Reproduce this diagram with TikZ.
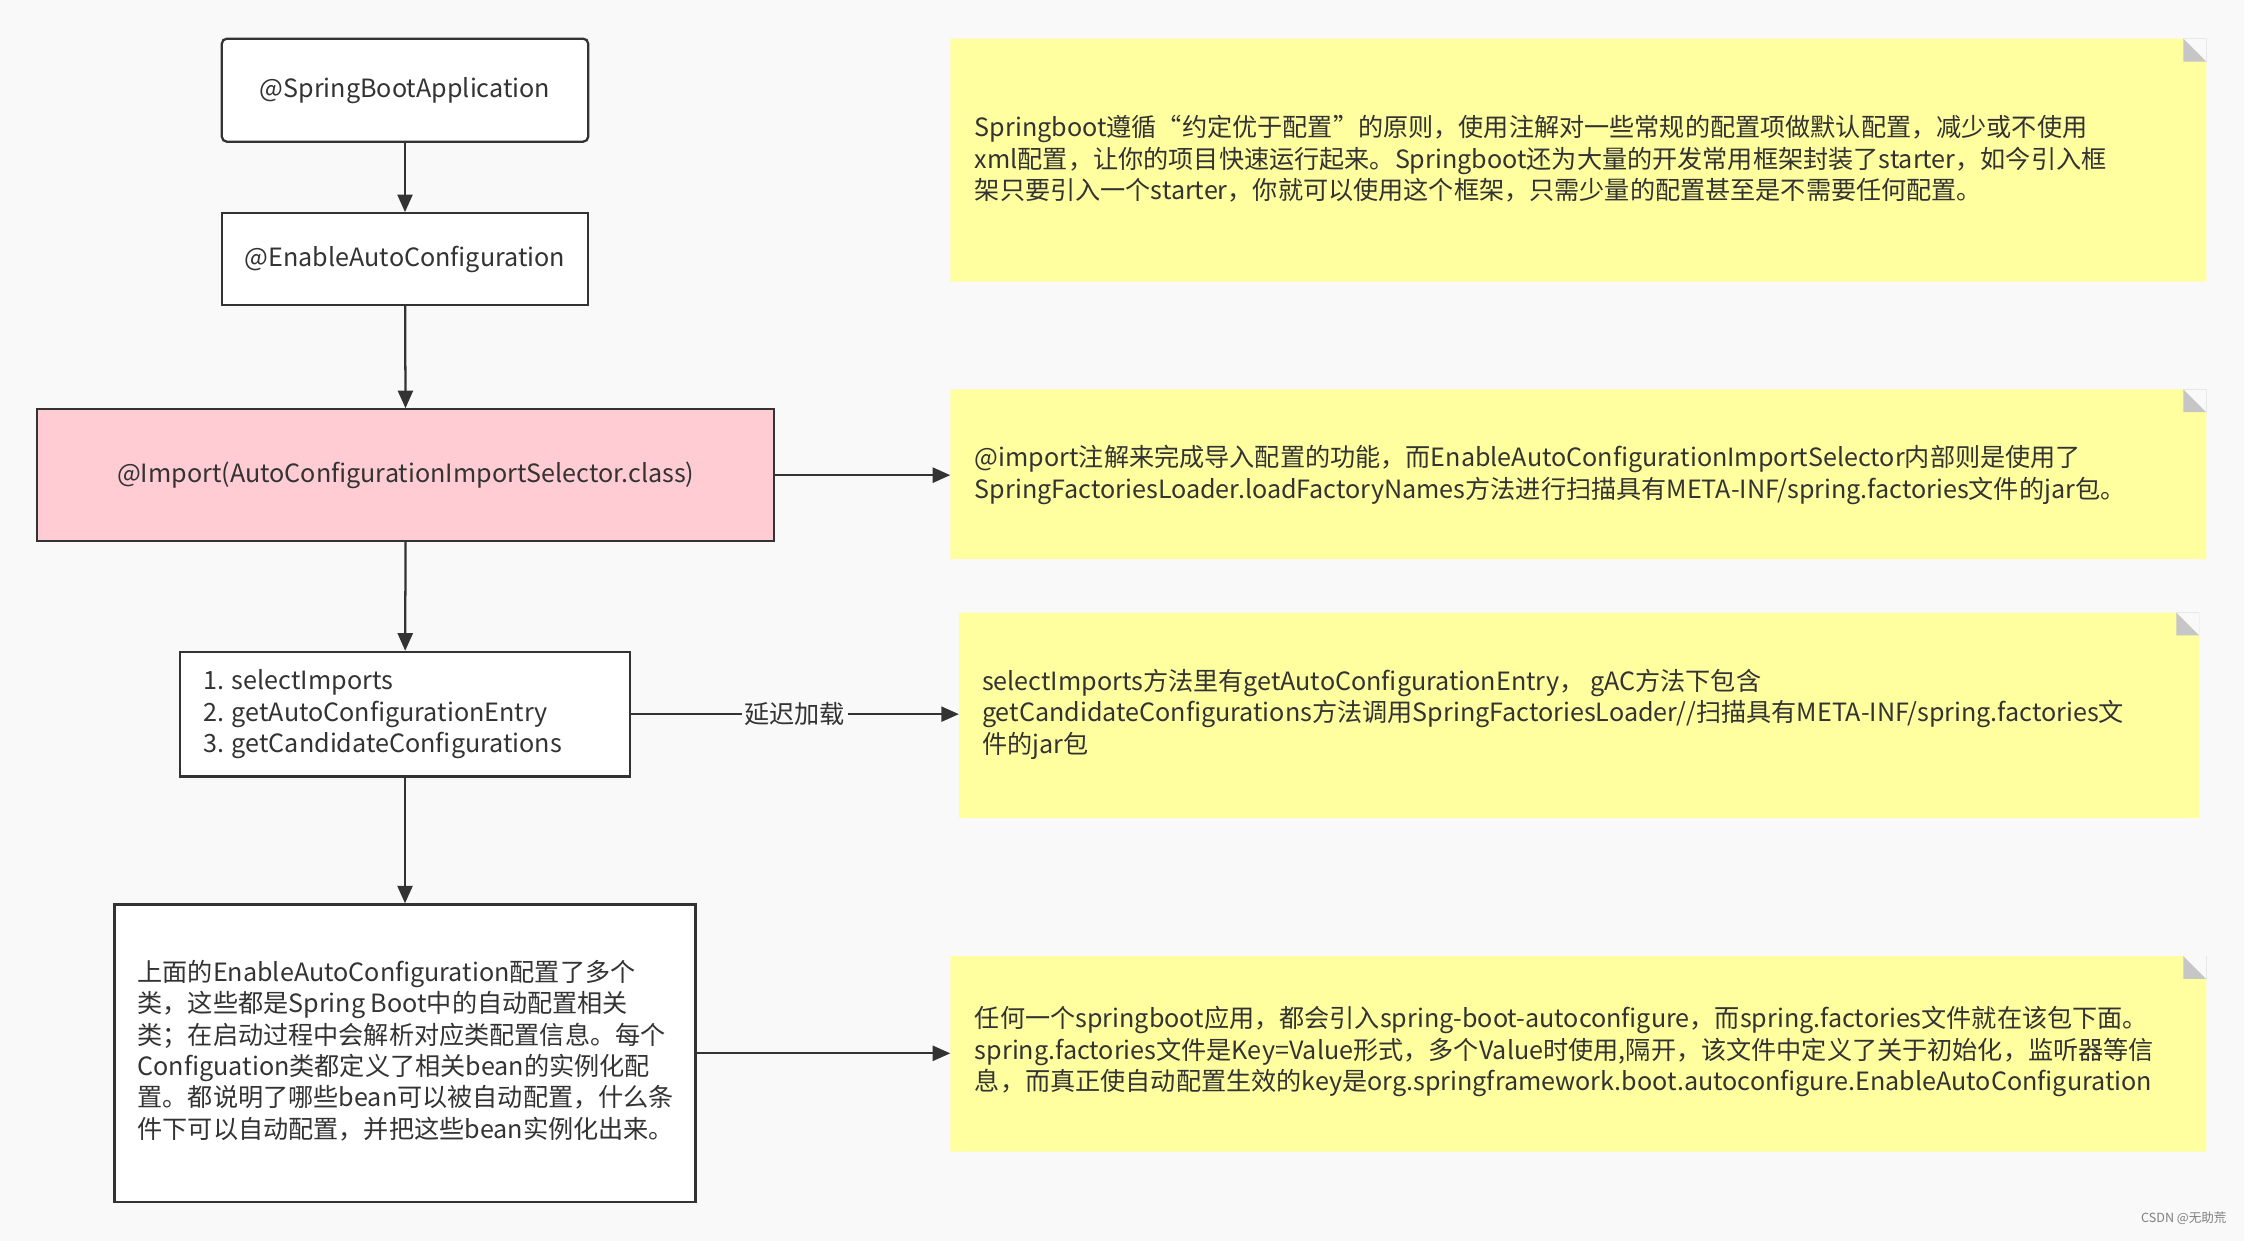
\documentclass[tikz,border=0pt]{standalone}
\usepackage{fontspec}
\setmainfont{Noto Sans CJK SC}
\usetikzlibrary{arrows.meta,calc}
\definecolor{bg}{HTML}{F9F9F9}
\definecolor{notey}{HTML}{FFFFA0}
\definecolor{pinkbox}{HTML}{FFCCD4}
\definecolor{linec}{HTML}{333333}
\begin{document}
\begin{tikzpicture}[x=0.02cm,y=-0.02cm,
  every node/.style={font=\fontsize{10}{12.5}\selectfont, text=linec},
  box/.style={draw=linec, line width=0.9pt, fill=white, inner sep=2pt},
  note/.style={draw=none, inner sep=0pt},
  arr/.style={-{Triangle[length=7pt,width=6pt]}, draw=linec, line width=0.9pt}]
\fill[bg] (0,0) rectangle (1568,867);
\useasboundingbox (0,0) rectangle (1568,867);
% boxes
\node[box, rounded corners=2pt, minimum width=256*0.02cm, minimum height=72*0.02cm] (b1) at (283,63) {@SpringBootApplication};
\node[box, minimum width=256*0.02cm, minimum height=64*0.02cm] (b2) at (283,181) {@EnableAutoConfiguration};
\node[box, fill=pinkbox, minimum width=515*0.02cm, minimum height=92*0.02cm] (b3) at (283.5,332) {@Import(AutoConfigurationImportSelector.class)};
\node[box, minimum width=314*0.02cm, minimum height=87*0.02cm] (b4) at (283,499) {};
\node[anchor=west, align=left] at (136,499) {1. selectImports\\2. getAutoConfigurationEntry\\3. getCandidateConfigurations};
\node[box, minimum width=406*0.02cm, minimum height=208*0.02cm] (b5) at (283,736) {};
\node[anchor=west, align=left] at (90,734) {上面的EnableAutoConfiguration配置了多个\\类，这些都是Spring Boot中的自动配置相关\\类；在启动过程中会解析对应类配置信息。每个\\Configuation类都定义了相关bean的实例化配\\置。都说明了哪些bean可以被自动配置，什么条\\件下可以自动配置，并把这些bean实例化出来。};
% notes
\newcommand{\mynote}[5]{%
  \node[note, minimum width=#4*0.02cm, minimum height=#5*0.02cm, anchor=north west] (#1) at (#2,#3) {};
  \fill[notey] (#1.north west) -- ($(#1.north east)+(-16,0)$) -- ($(#1.north east)+(0,16)$) -- (#1.south east) -- (#1.south west) -- cycle;
  \fill[gray!45] ($(#1.north east)+(-16,0)$) -- ($(#1.north east)+(0,16)$) -- ($(#1.north east)+(-16,16)$) -- cycle;
  \fill[gray!60] ($(#1.north east)+(-16,0)$) -- ($(#1.north east)+(0,16)$) -- ($(#1.north east)+(0,0)$) -- cycle;
  \fill[bg] ($(#1.north east)+(-16,0)$) -- ($(#1.north east)+(0,16)$) -- ($(#1.north east)+(0,0)$) -- cycle;}
\mynote{n1}{664}{27}{877}{169}
\mynote{n2}{664}{272}{877}{118}
\mynote{n3}{670}{428}{866}{143}
\mynote{n4}{664}{668}{877}{136}
\node[anchor=west, align=left] at (675,111) {Springboot遵循“约定优于配置”的原则，使用注解对一些常规的配置项做默认配置，减少或不使用\\xml配置，让你的项目快速运行起来。Springboot还为大量的开发常用框架封装了starter，如今引入框\\架只要引入一个starter，你就可以使用这个框架，只需少量的配置甚至是不需要任何配置。};
\node[anchor=west, align=left] at (675,332) {@import注解来完成导入配置的功能，而EnableAutoConfigurationImportSelector内部则是使用了\\SpringFactoriesLoader.loadFactoryNames方法进行扫描具有META-INF/spring.factories文件的jar包。};
\node[anchor=west, align=left] at (680,499) {selectImports方法里有getAutoConfigurationEntry， gAC方法下包含\\getCandidateConfigurations方法调用SpringFactoriesLoader//扫描具有META-INF/spring.factories文\\件的jar包};
\node[anchor=west, align=left] at (675,735) {任何一个springboot应用，都会引入spring-boot-autoconfigure，而spring.factories文件就在该包下面。\\spring.factories文件是Key=Value形式，多个Value时使用,隔开，该文件中定义了关于初始化，监听器等信\\息，而真正使自动配置生效的key是org.springframework.boot.autoconfigure.EnableAutoConfiguration};
% connectors
\draw[arr] (b1) -- (b2);
\draw[arr] (b2) -- (b3);
\draw[arr] (b3) -- (b4);
\draw[arr] (b4) -- (b5);
\draw[arr] (b3.east) -- (n2.west |- b3.east);
\draw[arr] (b4.east) -- node[fill=bg, inner sep=1pt, pos=0.5] {延迟加载} (n3.west |- b4.east);
\draw[arr] (b5.east) -- (n4.west |- b5.east);
\node[anchor=south east, font=\fontsize{5}{6}\selectfont, text=gray] (wm) at (1562,862) {CSDN @无助荒};
\end{tikzpicture}
\end{document}
